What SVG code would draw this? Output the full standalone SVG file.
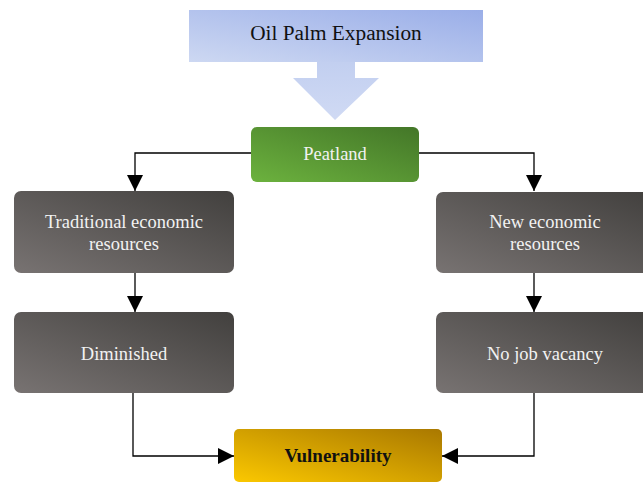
<svg xmlns="http://www.w3.org/2000/svg" width="643" height="482" viewBox="0 0 643 482">
<defs>
<linearGradient id="gBlue" x1="0" y1="1" x2="1" y2="0"><stop offset="0" stop-color="#cdd8f2"/><stop offset="1" stop-color="#9aaee8"/></linearGradient>
<linearGradient id="gArrow" x1="0" y1="0" x2="0" y2="1"><stop offset="0" stop-color="#c2cff0"/><stop offset="1" stop-color="#d0daf4"/></linearGradient>
<linearGradient id="gGreen" x1="0" y1="1" x2="1" y2="0"><stop offset="0" stop-color="#6cb23e"/><stop offset="1" stop-color="#437628"/></linearGradient>
<linearGradient id="gGray" x1="0" y1="1" x2="1" y2="0"><stop offset="0" stop-color="#787372"/><stop offset="1" stop-color="#42403e"/></linearGradient>
<linearGradient id="gGold" x1="0" y1="1" x2="1" y2="0"><stop offset="0" stop-color="#fbc800"/><stop offset="1" stop-color="#a97800"/></linearGradient>
<marker id="ah" viewBox="0 0 10 10" refX="10" refY="5" markerWidth="16" markerHeight="16" markerUnits="userSpaceOnUse" orient="auto"><path d="M0,0 L10,5 L0,10 z" fill="#000"/></marker>
</defs>
<style>
text{font-family:'Liberation Serif','DejaVu Serif',serif;text-anchor:middle;}
.w{fill:#f2f2f2;font-size:18.5px;}
.box{fill:url(#gGray);}
.c{fill:none;stroke:#000;stroke-width:1.3;marker-end:url(#ah);}
</style>
<g id="oil-palm">
<rect x="189" y="10" width="294" height="52" fill="url(#gBlue)"/>
<path d="M317,62 H355 V78 H379 L335,120 L293,78 H317 Z" fill="url(#gArrow)"/>
<text x="336" y="40" font-size="21.3" fill="#111">Oil Palm Expansion</text>
</g>
<g id="peatland">
<rect x="251" y="127" width="168" height="55" rx="6" fill="url(#gGreen)"/>
<text class="w" x="335" y="160">Peatland</text>
</g>
<g id="traditional">
<rect class="box" x="14" y="191" width="220" height="82" rx="7"/>
<text class="w" x="124" y="228">Traditional economic</text>
<text class="w" x="124" y="250">resources</text>
</g>
<g id="diminished">
<rect class="box" x="14" y="312" width="220" height="81" rx="7"/>
<text class="w" x="124" y="360">Diminished</text>
</g>
<g id="new-economic">
<rect class="box" x="436" y="192" width="215" height="81" rx="7"/>
<text class="w" x="545" y="228">New economic</text>
<text class="w" x="545" y="250">resources</text>
</g>
<g id="no-job">
<rect class="box" x="436" y="312" width="215" height="81" rx="7"/>
<text class="w" x="545" y="360">No job vacancy</text>
</g>
<g id="vulnerability">
<rect x="234" y="429" width="208" height="53" rx="5" fill="url(#gGold)"/>
<text x="338" y="462" font-size="19" font-weight="bold" fill="#111">Vulnerability</text>
</g>
<g id="connectors">
<path class="c" d="M251,153 H135 V191"/>
<path class="c" d="M419,153 H534 V191"/>
<path class="c" d="M135,273 V312"/>
<path class="c" d="M534,273 V312"/>
<path class="c" d="M133,393 V456 H234"/>
<path class="c" d="M534,393 V456 H442"/>
</g>
</svg>
